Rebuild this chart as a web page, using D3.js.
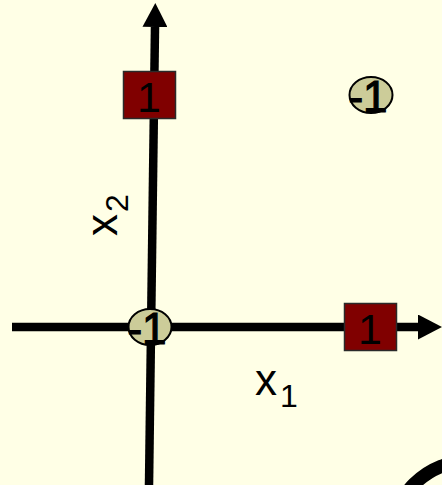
<!DOCTYPE html>
<html>
<head>
<meta charset="utf-8">
<script src="https://d3js.org/d3.v7.min.js"></script>
<style>
  body { margin: 0; background: #FFFFE6; }
  svg { display: block; }
</style>
</head>
<body>
<div id="xor_chart"></div>
<script>
// XOR points: inputs x1, x2 and their class label
var x1Values = [0, 1, 0, 1];
var x2Values = [0, 0, 1, 1];
var labels = [-1, 1, 1, -1];
var axisNames = ["x", "x"];
var axisSubs = ["1", "2"];

var width = 442,
    height = 485;

var svg = d3.select("#xor_chart")
  .append("svg")
    .attr("width", width)
    .attr("height", height);

svg.append("rect")
  .attr("width", width)
  .attr("height", height)
  .attr("fill", "#FFFFE6");

// scales for the two inputs
var x = d3.scaleLinear()
  .domain([0, 1])
  .range([150, 371]);
var y = d3.scaleLinear()
  .domain([0, 1])
  .range([327, 95]);

// arrow heads
var defs = svg.append("defs");
defs.append("marker")
    .attr("id", "arrow")
    .attr("viewBox", "0 0 24 25")
    .attr("refX", 0)
    .attr("refY", 12.5)
    .attr("markerUnits", "userSpaceOnUse")
    .attr("markerWidth", 24)
    .attr("markerHeight", 25)
    .attr("orient", "auto")
  .append("path")
    .attr("d", "M0,0 L24,12.5 L0,25 Z")
    .attr("fill", "#000");

// horizontal axis (x1)
svg.append("line")
  .attr("x1", 12)
  .attr("y1", y(0))
  .attr("x2", 418)
  .attr("y2", y(0))
  .attr("stroke", "#000")
  .attr("stroke-width", 8.5)
  .attr("marker-end", "url(#arrow)");

// vertical axis (x2), a little tilted like the original
svg.append("line")
  .attr("x1", 149)
  .attr("y1", height)
  .attr("x2", 155)
  .attr("y2", 27)
  .attr("stroke", "#000")
  .attr("stroke-width", 8.5)
  .attr("marker-end", "url(#arrow)");

// curve peeking in at the bottom right
svg.append("circle")
  .attr("cx", 470)
  .attr("cy", 540)
  .attr("r", 79)
  .attr("fill", "none")
  .attr("stroke", "#000")
  .attr("stroke-width", 13.5);

var data = x1Values.map(function(d, i) {
  return {x1: d, x2: x2Values[i], label: labels[i]};
});

var pos = data.filter(function(d) { return d.label > 0; });
var neg = data.filter(function(d) { return d.label < 0; });

// class 1: dark red squares
var sq = svg.append("g").selectAll("g")
  .data(pos)
  .enter()
  .append("g")
    .attr("transform", function(d) { return "translate(" + x(d.x1) + "," + y(d.x2) + ")"; });
sq.append("rect")
  .attr("x", -26.5)
  .attr("y", -23.5)
  .attr("width", 52)
  .attr("height", 47)
  .attr("fill", "#800000")
  .attr("stroke", "#2a2a2a")
  .attr("stroke-width", 1.5);
sq.append("text")
  .attr("text-anchor", "middle")
  .attr("dx", -1)
  .attr("y", 17)
  .style("font-family", "'Liberation Sans', Arial, sans-serif")
  .style("font-size", "43px")
  .attr("fill", "#000")
  .text(function(d) { return d.label; });

// class -1: khaki ellipses
var ci = svg.append("g").selectAll("g")
  .data(neg)
  .enter()
  .append("g")
    .attr("transform", function(d) { return "translate(" + x(d.x1) + "," + y(d.x2) + ")"; });
ci.append("ellipse")
  .attr("rx", 21.5)
  .attr("ry", 18)
  .attr("fill", "#CCCC99")
  .attr("stroke", "#000")
  .attr("stroke-width", 2);
ci.append("text")
  .attr("text-anchor", "middle")
  .attr("dx", -3)
  .attr("y", 16.5)
  .style("font-family", "'Liberation Sans', Arial, sans-serif")
  .style("font-size", "44px")
  .attr("fill", "#000")
  .attr("stroke", "#000")
  .attr("stroke-width", 1.2)
  .text(function(d) { return d.label; });

// axis names
var t1 = svg.append("text")
  .attr("x", 255)
  .attr("y", 395)
  .style("font-family", "'Liberation Sans', Arial, sans-serif")
  .style("font-size", "44px")
  .attr("fill", "#000");
t1.append("tspan").text(axisNames[0]);
t1.append("tspan")
  .attr("dx", 3)
  .attr("dy", 12)
  .style("font-size", "32px")
  .text(axisSubs[0]);

var t2 = svg.append("text")
  .attr("transform", "translate(117,236) rotate(-90)")
  .style("font-family", "'Liberation Sans', Arial, sans-serif")
  .style("font-size", "44px")
  .attr("fill", "#000");
t2.append("tspan").text(axisNames[1]);
t2.append("tspan")
  .attr("dx", 2)
  .attr("dy", 11)
  .style("font-size", "32px")
  .text(axisSubs[1]);
</script>
</body>
</html>
